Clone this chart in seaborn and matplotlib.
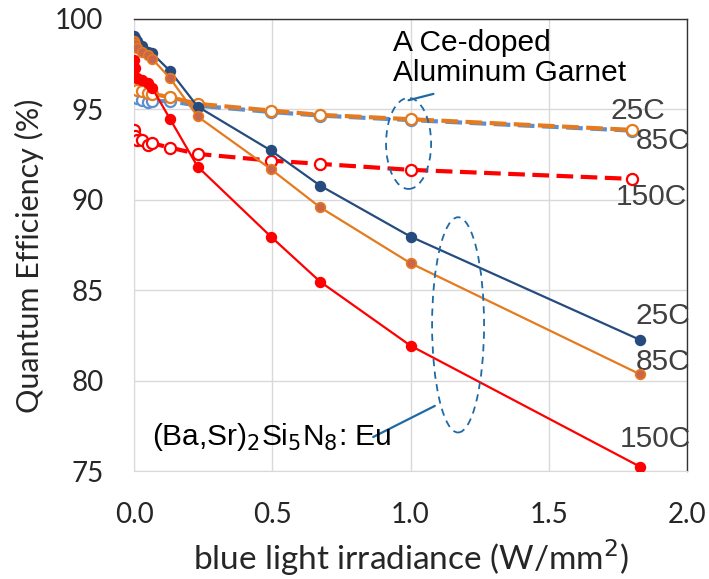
import numpy as np
import pandas as pd
import seaborn as sns
import matplotlib.pyplot as plt
from matplotlib.patches import Ellipse

# ---------------------------------------------------------------
# Dados
# ---------------------------------------------------------------
x_nitride = [0.0, 0.005, 0.01, 0.03, 0.05, 0.065, 0.13, 0.23, 0.495, 0.673, 1.0, 1.83]
qe_nitride_25 = [99.06, 98.95, 98.8, 98.5, 98.19, 98.1, 97.12, 95.15, 92.72, 90.78, 87.96, 82.25]
qe_nitride_85 = [98.75, 98.6, 98.4, 98.19, 98.0, 97.8, 96.72, 94.6, 91.69, 89.58, 86.49, 80.35]
qe_nitride_150 = [97.75, 97.3, 96.72, 96.63, 96.45, 96.2, 94.47, 91.83, 87.96, 85.47, 81.93, 75.24]

x_garnet = [0.0, 0.005, 0.01, 0.03, 0.05, 0.065, 0.13, 0.23, 0.495, 0.673, 1.0, 1.80]
qe_garnet_25 = [95.75, 95.7, 95.6, 95.5, 95.4, 95.45, 95.45, 95.2, 94.85, 94.65, 94.4, 93.82]
qe_garnet_85 = [96.44, 96.2, 96.07, 96.0, 95.9, 95.85, 95.67, 95.3, 94.93, 94.69, 94.45, 93.86]
qe_garnet_150 = [93.86, 93.5, 93.3, 93.3, 93.0, 93.12, 92.88, 92.53, 92.16, 91.98, 91.65, 91.15]

temp_labels = ["25C", "85C", "150C"]
x_ticks = [0.0, 0.5, 1.0, 1.5, 2.0]
y_ticks = [75, 80, 85, 90, 95, 100]

# ---------------------------------------------------------------
# Estilo
# ---------------------------------------------------------------
sns.set_style("whitegrid")
plt.rcParams['font.family'] = ['Liberation Sans', 'DejaVu Sans']

fig = plt.figure(figsize=(7.09, 5.79), dpi=100)
ax = fig.add_axes([0.189, 0.1865, 0.78, 0.781])

blue_dark = "#264B7F"
orange = "#E57A1F"
red = "#FF0000"
blue_light = "#5B8FD0"

# curvas do garnet (tracejadas, marcadores abertos)
garnet = [(qe_garnet_25, blue_light), (qe_garnet_85, orange), (qe_garnet_150, red)]
for y, c in garnet:
    sns.lineplot(x=x_garnet, y=y, ax=ax, color=c, lw=3, linestyle=(0, (4, 1.8)),
                 marker='o', markersize=8, markerfacecolor='white',
                 markeredgecolor=c, markeredgewidth=1.6, sort=False, zorder=3)

# curvas do nitreto (contínuas, marcadores cheios)
nitride = [(qe_nitride_25, blue_dark, blue_dark), (qe_nitride_85, orange, "#C8654A"),
           (qe_nitride_150, red, red)]
for y, c, fc in nitride:
    sns.lineplot(x=x_nitride, y=y, ax=ax, color=c, lw=1.6, marker='o', markersize=7,
                 markerfacecolor=fc, markeredgecolor=c, markeredgewidth=1.2,
                 sort=False, zorder=4)

ax.set_xlim(0, 2.0)
ax.set_ylim(75, 100)
ax.set_xticks(x_ticks)
ax.set_yticks(y_ticks)
ax.set_xticklabels([f"{v:.1f}" for v in x_ticks], family='Lato', fontsize=20)
ax.set_yticklabels([str(v) for v in y_ticks], family='Lato', fontsize=20)
ax.tick_params(axis='y', length=0, pad=22)
ax.tick_params(axis='x', length=0, pad=22)
ax.grid(color='#D9D9D9', lw=1)
ax.set_xlabel("blue light irradiance (W/mm$^2$)", family='Lato', fontsize=24)
ax.set_ylabel("Quantum Efficiency (%)", family='Lato', fontsize=22)
ax.xaxis.set_label_coords(0.5, -0.146)
ax.yaxis.set_label_coords(-0.163, 0.475)

for s in ['left', 'bottom']:
    ax.spines[s].set_color('#D9D9D9')
for s in ['top', 'right']:
    ax.spines[s].set_color('#333333')
    ax.spines[s].set_linewidth(1.0)

# rótulos de temperatura
grey = "#404040"
garnet_pos = [(1.823, 94.91), (1.913, 93.25), (1.87, 90.15)]
nitride_pos = [(1.913, 83.57), (1.913, 81.03), (1.884, 76.77)]
for lab, (px, py) in zip(temp_labels, garnet_pos):
    ax.text(px, py, lab, fontsize=21.5, color=grey, ha='center', va='center')
for lab, (px, py) in zip(temp_labels, nitride_pos):
    ax.text(px, py, lab, fontsize=21.5, color=grey, ha='center', va='center')

# anotações
ell_color = "#1F6AA5"
ax.add_patch(Ellipse((0.993, 93.11), 0.163, 5.03, fill=False, ls=(0, (4, 3)),
                     ec=ell_color, lw=1.3, zorder=5))
ax.add_patch(Ellipse((1.172, 83.08), 0.188, 11.9, fill=False, ls=(0, (4, 3)),
                     ec=ell_color, lw=1.3, zorder=5))
ax.plot([1.083, 0.993], [95.85, 95.5], color=ell_color, lw=1.6)
ax.plot([0.865, 1.088], [76.88, 78.6], color=ell_color, lw=1.6)

ax.text(0.937, 97.84, "A Ce-doped\nAluminum Garnet", fontsize=21.5, color='black',
        ha='left', va='center', linespacing=1.1)
ax.text(0.065, 76.88, "(Ba,Sr)$_2$Si$_5$N$_8$: Eu", fontsize=21.5, color='black',
        ha='left', va='center')

fig.savefig("out.png", dpi=100)
